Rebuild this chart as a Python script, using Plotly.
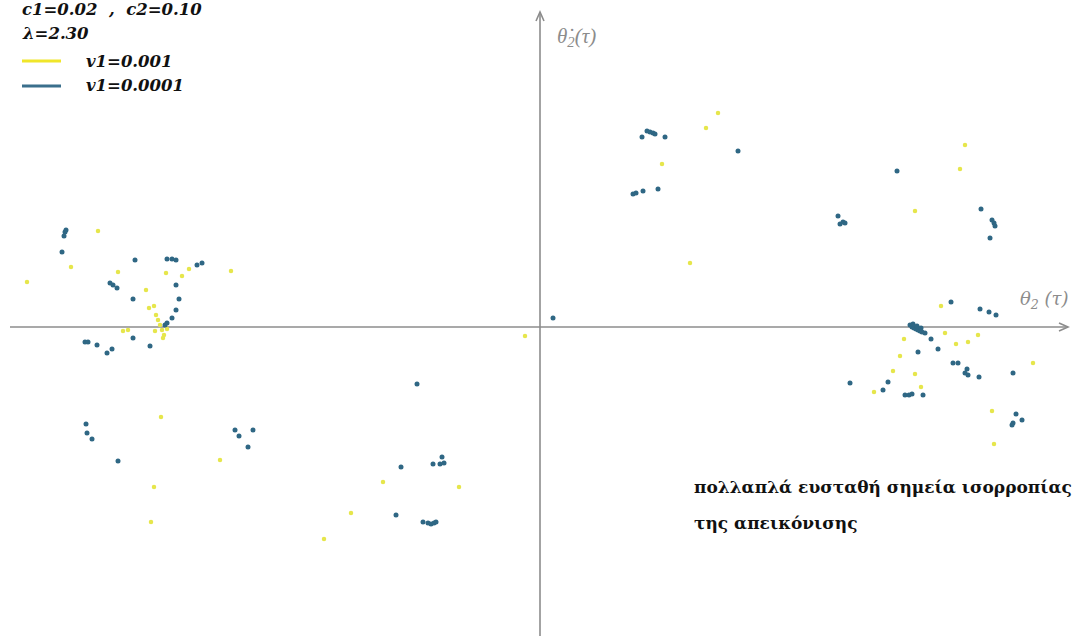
import plotly.graph_objects as go

# Phase portrait of the map: theta2 vs d(theta2)/dt for two values of v1
theta_yellow = [-2.565, -2.21, -2.345, -2.11, -1.87, -1.79, -1.755, -1.545, -1.97, -1.955, -1.93,
                -1.92, -1.91, -1.90, -1.89, -1.88, -1.885, -1.865, -2.085, -2.06, -1.925,
                -1.895, -1.60, -1.93, -1.945,
                -0.785, -0.405, -0.945, -1.08, -0.075,
                0.89, 0.83, 0.61, 0.75, 2.125, 2.10, 1.875,
                2.005, 2.025, 1.82, 2.08, 2.14, 2.19, 1.80, 1.765, 1.875, 1.67, 1.905,
                2.465, 2.26, 2.27]
omega_yellow = [0.225, 0.48, 0.30, 0.275, 0.27, 0.255, 0.29, 0.28, 0.185, 0.095, 0.105,
                0.06, 0.035, 0.01, -0.015, -0.04, -0.055, -0.01, -0.02, -0.015, -0.02,
                -0.45, -0.665, -0.80, -0.975,
                -0.775, -0.80, -0.93, -1.06, -0.045,
                1.07, 0.995, 0.815, 0.32, 0.91, 0.79, 0.58,
                0.105, -0.03, -0.06, -0.085, -0.075, -0.04, -0.145, -0.22, -0.235, -0.325, -0.30,
                -0.18, -0.42, -0.585]

theta_blue = [-2.375, -2.37, -2.38, -2.39, -2.025, -1.865, -1.84, -1.82, -1.715, -1.69,
              -2.15, -2.135, -2.115, -1.82, -2.035, -1.805, -1.82, -1.84, -1.865, -1.875,
              -2.275, -2.26, -2.215, -2.165, -2.14, -2.035, -1.95,
              -2.27, -2.265, -2.24, -2.11, -1.525, -1.505, -1.435, -1.46,
              -0.615, -0.49, -0.50, -0.48, -0.535, -0.695, -0.72, -0.585, -0.56, -0.545, -0.53, -0.52,
              0.065,
              0.535, 0.55, 0.565, 0.575, 0.51, 0.625, 0.99, 0.465, 0.48, 0.515, 0.59,
              1.785, 1.49, 1.50, 1.515, 1.525, 2.205, 2.26, 2.27, 2.275, 2.25,
              2.055, 2.20, 2.245, 2.28,
              1.85, 1.86, 1.87, 1.88, 1.89, 1.90, 1.91, 1.925, 1.865, 1.885, 1.905,
              1.955, 1.99, 1.89, 2.065, 2.09, 2.135, 2.125, 2.14, 2.195, 2.365,
              1.74, 1.715, 1.825, 1.845, 1.86, 1.915, 1.55,
              2.365, 2.38, 2.41, 2.36]
omega_blue = [0.475, 0.485, 0.455, 0.375, 0.335, 0.34, 0.34, 0.335, 0.31, 0.32,
              0.22, 0.21, 0.195, 0.21, 0.14, 0.14, 0.085, 0.045, 0.02, 0.01,
              -0.075, -0.075, -0.09, -0.13, -0.11, -0.055, -0.095,
              -0.485, -0.53, -0.56, -0.67, -0.515, -0.545, -0.515, -0.60,
              -0.285, -0.65, -0.685, -0.68, -0.685, -0.70, -0.94, -0.975, -0.98, -0.985, -0.98, -0.975,
              0.045,
              0.98, 0.975, 0.97, 0.965, 0.95, 0.95, 0.88, 0.665, 0.67, 0.68, 0.69,
              0.78, 0.555, 0.515, 0.525, 0.52, 0.59, 0.535, 0.52, 0.505, 0.445,
              0.125, 0.09, 0.075, 0.06,
              0.01, 0.0, -0.005, -0.01, -0.015, -0.02, -0.025, -0.03, 0.015, 0.005, -0.005,
              -0.06, -0.11, -0.125, -0.18, -0.18, -0.21, -0.23, -0.24, -0.25, -0.23,
              -0.275, -0.315, -0.34, -0.34, -0.335, -0.34, -0.28,
              -0.48, -0.435, -0.465, -0.49]

params_lines = ["c1=0.02\u00a0\u00a0,\u00a0\u00a0c2=0.10", "λ=2.30"]
series_names = ["v1=0.001", "v1=0.0001"]
series_colors = ["#e6e64c", "#2f6784"]
note_lines = ["πολλαπλά ευσταθή σημεία ισορροπίας", "της απεικόνισης"]

X_RANGE = [-2.70, 2.685]
Y_RANGE = [-1.545, 1.635]
X_AXIS_SPAN = [-2.65, 2.64]
Y_AXIS_TOP = 1.575
W, H = 1077, 636

fig = go.Figure()
fig.add_trace(go.Scatter(x=theta_yellow, y=omega_yellow, mode="markers",
                         marker=dict(size=4.5, color=series_colors[0]),
                         name=series_names[0], showlegend=False))
fig.add_trace(go.Scatter(x=theta_blue, y=omega_blue, mode="markers",
                         marker=dict(size=5, color=series_colors[1]),
                         name=series_names[1], showlegend=False))

axis_gray = "#8c8c8c"
axis_line = dict(color=axis_gray, width=1.6)
# coordinate axes through the origin, with open arrow heads
fig.add_shape(type="line", xref="x", yref="y", x0=X_AXIS_SPAN[0], x1=X_AXIS_SPAN[1], y0=0, y1=0,
              line=axis_line, layer="below")
fig.add_shape(type="line", xref="x", yref="y", x0=0, x1=0, y0=Y_RANGE[0], y1=Y_AXIS_TOP,
              line=axis_line, layer="below")
fig.add_shape(type="path", xref="x", yref="y", xsizemode="pixel", ysizemode="pixel",
              xanchor=X_AXIS_SPAN[1], yanchor=0, path="M -9,4 L 0,0 L -9,-4", line=axis_line)
fig.add_shape(type="path", xref="x", yref="y", xsizemode="pixel", ysizemode="pixel",
              xanchor=0, yanchor=Y_AXIS_TOP, path="M -4,-9 L 0,0 L 4,-9", line=axis_line)

# axis names: dot-theta_2(tau) on the vertical axis, theta_2(tau) on the horizontal one
fig.add_annotation(x=0.075, y=1.45, xref="x", yref="y", xanchor="left", showarrow=False,
                   text="<i>\u03b8\u0307<sub>2</sub>(τ)</i>",
                   font=dict(family="Liberation Serif", size=21, color=axis_gray))
fig.add_annotation(x=2.39, y=0.135, xref="x", yref="y", xanchor="left", showarrow=False,
                   text="<i>θ<sub>2</sub> (τ)</i>",
                   font=dict(family="DejaVu Serif", size=18, color=axis_gray))

legend_font = dict(family="DejaVu Serif", size=16.5, color="#111111")
for i, line in enumerate(params_lines):
    fig.add_annotation(x=20 / W, y=1 - (10 + 24 * i) / H, xref="paper", yref="paper",
                       xanchor="left", yanchor="middle", showarrow=False,
                       text="<b><i>" + line + "</i></b>", font=legend_font)
for i, (name, col) in enumerate(zip(series_names, series_colors)):
    yy = 1 - (61 + 25 * i) / H
    fig.add_shape(type="line", xref="paper", yref="paper", x0=22 / W, x1=61 / W, y0=yy, y1=yy,
                  line=dict(color="#f0e62a" if i == 0 else "#3a6f8c", width=3))
    fig.add_annotation(x=84 / W, y=yy, xref="paper", yref="paper", xanchor="left",
                       yanchor="middle", showarrow=False,
                       text="<b><i>" + name + "</i></b>", font=legend_font)

note_font = dict(family="DejaVu Serif", size=17, color="#111111")
for i, line in enumerate(note_lines):
    fig.add_annotation(x=692 / W, y=1 - (487 + 36 * i) / H, xref="paper", yref="paper",
                       xanchor="left", yanchor="middle", showarrow=False,
                       text="<b>" + line + "</b>", font=note_font)

fig.update_xaxes(range=X_RANGE, visible=False, fixedrange=True)
fig.update_yaxes(range=Y_RANGE, visible=False, fixedrange=True)
fig.update_layout(width=W, height=H, margin=dict(l=0, r=0, t=0, b=0),
                  paper_bgcolor="white", plot_bgcolor="white", showlegend=False)

fig.write_html("out.html")
